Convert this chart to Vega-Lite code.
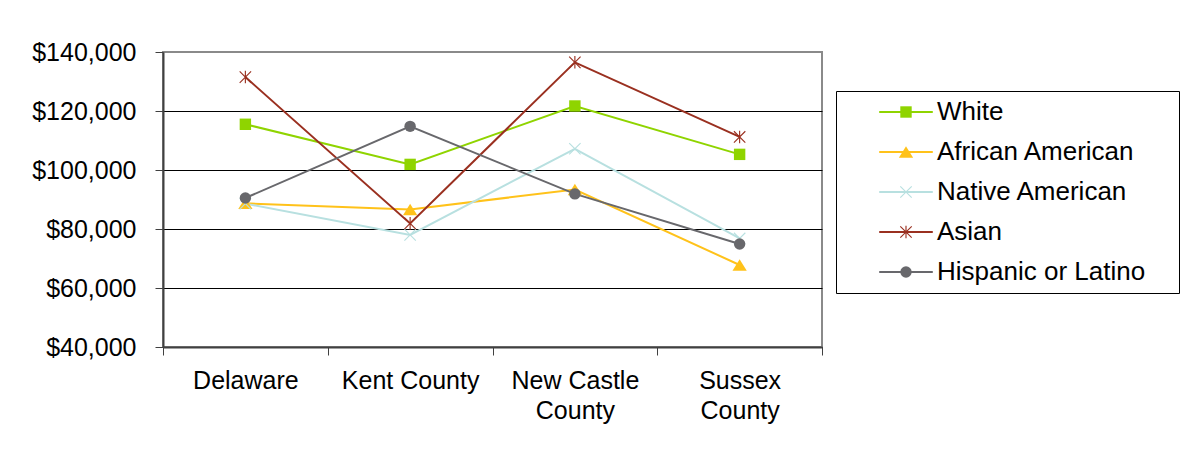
{
  "$schema": "https://vega.github.io/schema/vega-lite/v6.json",
  "width": 659,
  "height": 295,
  "autosize": "none",
  "padding": {"left": 163, "top": 52, "right": 358, "bottom": 109},
  "background": "white",
  "config": {
    "font": "Liberation Sans",
    "view": {"stroke": "#8a8a8a", "strokeWidth": 2}
  },
  "data": {
    "values": [
      {"area": "Delaware", "group": "White", "income": 115500},
      {"area": "Delaware", "group": "African American", "income": 88700},
      {"area": "Delaware", "group": "Native American", "income": 88600},
      {"area": "Delaware", "group": "Asian", "income": 131500},
      {"area": "Delaware", "group": "Hispanic or Latino", "income": 90500},
      {"area": "Kent County", "group": "White", "income": 101900},
      {"area": "Kent County", "group": "African American", "income": 86600},
      {"area": "Kent County", "group": "Native American", "income": 78000},
      {"area": "Kent County", "group": "Asian", "income": 81900},
      {"area": "Kent County", "group": "Hispanic or Latino", "income": 114800},
      {"area": "New Castle County", "group": "White", "income": 121700},
      {"area": "New Castle County", "group": "African American", "income": 93400},
      {"area": "New Castle County", "group": "Native American", "income": 107200},
      {"area": "New Castle County", "group": "Asian", "income": 136500},
      {"area": "New Castle County", "group": "Hispanic or Latino", "income": 91900},
      {"area": "Sussex County", "group": "White", "income": 105300},
      {"area": "Sussex County", "group": "African American", "income": 67800},
      {"area": "Sussex County", "group": "Native American", "income": 76800},
      {"area": "Sussex County", "group": "Asian", "income": 111200},
      {"area": "Sussex County", "group": "Hispanic or Latino", "income": 74900}
    ]
  },
  "encoding": {
    "x": {
      "field": "area",
      "type": "nominal",
      "sort": ["Delaware", "Kent County", "New Castle County", "Sussex County"],
      "scale": {"type": "band", "paddingInner": 0, "paddingOuter": 0},
      "axis": {
        "title": null,
        "labelAngle": 0,
        "tickBand": "extent",
        "labelFontSize": 25,
        "labelColor": "black",
        "labelPadding": 13,
        "labelLineHeight": 30,
        "labelBaseline": "top",
        "tickSize": 8,
        "tickColor": "#404040",
        "domainColor": "#404040",
        "domainWidth": 2,
        "labelExpr": "datum.label == 'New Castle County' ? ['New Castle', 'County'] : datum.label == 'Sussex County' ? ['Sussex', 'County'] : datum.label"
      }
    },
    "y": {
      "field": "income",
      "type": "quantitative",
      "scale": {"domain": [40000, 140000]},
      "axis": {
        "title": null,
        "values": [40000, 60000, 80000, 100000, 120000, 140000],
        "format": "$,.0f",
        "labelFontSize": 25,
        "labelColor": "black",
        "labelPadding": 19,
        "tickSize": 8,
        "tickColor": "#404040",
        "domainColor": "#404040",
        "domainWidth": 2,
        "grid": true,
        "gridColor": {"condition": {"test": "datum.value == 140000", "value": "#8a8a8a"}, "value": "black"},
        "gridWidth": 1
      }
    }
  },
  "layer": [
    {
      "mark": {"type": "line", "strokeWidth": 2},
      "encoding": {
        "stroke": {
          "field": "group",
          "type": "nominal",
          "sort": ["White", "African American", "Native American", "Asian", "Hispanic or Latino"],
          "scale": {"range": ["#8fd400", "#ffc21a", "#b8e0e0", "#9a3020", "#68686c"]},
          "legend": {
            "orient": "none",
            "legendX": 673,
            "legendY": 39,
            "title": ".",
            "titleOrient": "right",
            "titleOpacity": 0,
            "titleFontSize": 10,
            "titlePadding": 23,
            "padding": 8,
            "strokeColor": "black",
            "fillColor": "white",
            "symbolType": "M-4.7,0L4.7,0",
            "symbolSize": 130,
            "symbolStrokeWidth": 2,
            "symbolOffset": 49,
            "labelOffset": 18,
            "labelFontSize": 26,
            "labelColor": "black",
            "labelLimit": 400,
            "rowPadding": 14
          }
        }
      }
    },
    {
      "mark": {"type": "point", "filled": true, "size": 130, "opacity": 1},
      "encoding": {
        "fill": {
          "field": "group",
          "type": "nominal",
          "scale": {
            "domain": ["White", "African American", "Native American", "Asian", "Hispanic or Latino"],
            "range": ["#8fd400", "#ffc21a", "#b8e0e0", "#9a3020", "#68686c"]
          },
          "legend": {
            "orient": "none",
            "legendX": 673,
            "legendY": 39,
            "title": null,
            "padding": 8,
            "symbolSize": 130,
            "symbolStrokeWidth": 0,
            "symbolOffset": 49,
            "labelOffset": 18,
            "labelFontSize": 26,
            "labelLimit": 400,
            "rowPadding": 14,
            "labelExpr": "''"
          }
        },
        "shape": {
          "field": "group",
          "type": "nominal",
          "scale": {
            "domain": ["White", "African American", "Native American", "Asian", "Hispanic or Latino"],
            "range": [
              "square",
              "M0,-1L1.25,1L-1.25,1Z",
              "M-0.93,-1.07L1.07,0.93L0.93,1.07L-1.07,-0.93ZM-1.07,0.93L0.93,-1.07L1.07,-0.93L-0.93,1.07Z",
              "M-0.93,-1.07L1.07,0.93L0.93,1.07L-1.07,-0.93ZM-1.07,0.93L0.93,-1.07L1.07,-0.93L-0.93,1.07ZM-0.1,-1.1L0.1,-1.1L0.1,1.1L-0.1,1.1Z",
              "circle"
            ]
          },
          "legend": {
            "orient": "none",
            "legendX": 673,
            "legendY": 39,
            "title": null,
            "padding": 8,
            "symbolSize": 130,
            "symbolStrokeWidth": 0,
            "symbolOffset": 49,
            "labelOffset": 18,
            "labelFontSize": 26,
            "labelLimit": 400,
            "rowPadding": 14,
            "labelExpr": "''"
          }
        }
      }
    }
  ]
}
